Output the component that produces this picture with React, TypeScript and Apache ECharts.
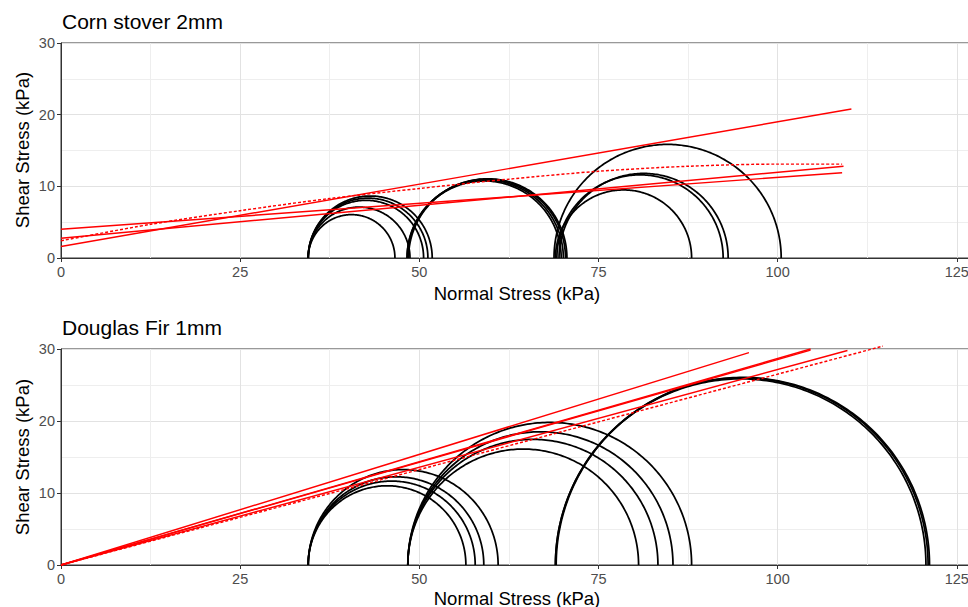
import React, { useEffect, useRef } from "react";
import * as echarts from "echarts";

// Mohr circles, each given as [sigma3, sigma1] in kPa
const cornCircles: number[][] = [
  [34.5, 46.6], [34.5, 48.7], [34.5, 50.6], [34.5, 51.2], [34.5, 51.8],
  [48.3, 69.8], [48.3, 70.1], [48.4, 70.4], [48.5, 70.6],
  [69.0, 88.0], [69.2, 92.4], [69.5, 93.1], [68.8, 100.5],
];
const firCircles: number[][] = [
  [34.5, 56.5], [34.5, 57.8], [34.5, 59.0], [34.5, 61.0],
  [48.4, 80.6], [48.4, 83.3], [48.4, 85.4], [48.4, 88.0],
  [69.0, 120.7], [69.0, 121.0], [69.1, 121.2],
];

// Linear failure envelopes as [x0, y0, x1, y1]
const cornLinear: number[][] = [
  [0, 1.6, 110.3, 20.8],
  [0, 4.0, 109.0, 11.9],
  [0, 2.75, 109.2, 12.8],
];
// Curved (dotted) envelope for corn stover
const cornCurveX = [0, 12.5, 25, 37.5, 50, 62.5, 75, 87.5, 100, 109];
const cornCurveY = [2.4, 4.7, 6.6, 8.3, 9.7, 11.0, 12.1, 12.8, 13.1, 13.1];

const firLinear: number[][] = [
  [0, 0, 96.0, 29.5],
  [0, 0, 104.6, 30.0],
  [0, 0, 104.6, 29.85],
  [0, 0, 109.75, 29.8],
];
const firDotted: number[][] = [[0, 0, 114.7, 30.4]];

const panelTitles = ["Corn stover 2mm", "Douglas Fir 1mm"];
const xTitle = "Normal Stress (kPa)";
const yTitle = "Shear Stress (kPa)";

const FONT = "'Liberation Sans', Arial, Helvetica, sans-serif";
const RED = "#ff0000";

function App() {
  const ref = useRef<HTMLDivElement>(null);

  useEffect(() => {
    if (!ref.current) return;
    const chart = echarts.init(ref.current, null, { renderer: "svg" });

    const pxPerUnit = 7.166;
    const xMax = 130;
    const grids = [
      { left: 61, top: 43, width: xMax * pxPerUnit, height: 215 },
      { left: 61, top: 349, width: xMax * pxPerUnit, height: 216 },
    ];

    const xAxis = grids.map((_, i) => ({
      type: "value" as const,
      gridIndex: i,
      min: 0,
      max: xMax,
      interval: 25,
      axisLine: { show: true, lineStyle: { color: "#333", width: 1 } },
      axisTick: { show: true, length: 4, lineStyle: { color: "#333" } },
      minorTick: { show: false, splitNumber: 2 },
      axisLabel: {
        color: "#4d4d4d",
        fontSize: 14.5,
        fontFamily: FONT,
        margin: 6,
        formatter: (v: number) => (v % 25 === 0 ? String(v) : ""),
      },
      splitLine: { show: true, lineStyle: { color: "#e2e2e2", width: 1 } },
      minorSplitLine: { show: true, lineStyle: { color: "#eeeeee", width: 1 } },
    }));

    const yAxis = grids.map((_, i) => ({
      type: "value" as const,
      gridIndex: i,
      min: 0,
      max: 30,
      interval: 10,
      axisLine: { show: true, lineStyle: { color: "#333", width: 1 } },
      axisTick: { show: true, length: 4, lineStyle: { color: "#333" } },
      minorTick: { show: false, splitNumber: 2 },
      axisLabel: { color: "#4d4d4d", fontSize: 14.5, fontFamily: FONT, margin: 6 },
      splitLine: { show: true, lineStyle: { color: "#e2e2e2", width: 1 } },
      minorSplitLine: { show: true, lineStyle: { color: "#eeeeee", width: 1 } },
    }));

    const circleSeries = (data: number[][], idx: number) => ({
      type: "custom" as const,
      xAxisIndex: idx,
      yAxisIndex: idx,
      silent: true,
      z: 2,
      data,
      renderItem: (_params: any, api: any) => {
        const s3 = api.value(0) as number;
        const s1 = api.value(1) as number;
        const c = (s1 + s3) / 2;
        const r = (s1 - s3) / 2;
        const points: number[][] = [];
        for (let i = 0; i <= 180; i++) {
          const t = (Math.PI * i) / 180;
          points.push(api.coord([c + r * Math.cos(t), r * Math.sin(t)]));
        }
        return {
          type: "polyline",
          shape: { points },
          style: { stroke: "#000", lineWidth: 1.75, fill: "none" },
        };
      },
    });

    const envelopeSeries = (seg: number[], idx: number, dashed: boolean) => ({
      type: "line" as const,
      xAxisIndex: idx,
      yAxisIndex: idx,
      silent: true,
      clip: false,
      z: 3,
      symbol: "none",
      data: [
        [seg[0], seg[1]],
        [seg[2], seg[3]],
      ],
      lineStyle: { color: RED, width: 1.45, type: dashed ? [3, 2] : "solid" },
    });

    const series: any[] = [
      circleSeries(cornCircles, 0),
      circleSeries(firCircles, 1),
      ...cornLinear.map((s) => envelopeSeries(s, 0, false)),
      {
        type: "line",
        xAxisIndex: 0,
        yAxisIndex: 0,
        silent: true,
        clip: false,
        z: 3,
        symbol: "none",
        smooth: 0.3,
        data: cornCurveX.map((x, i) => [x, cornCurveY[i]]),
        lineStyle: { color: RED, width: 1.45, type: [3, 2] },
      },
      ...firLinear.map((s) => envelopeSeries(s, 1, false)),
      ...firDotted.map((s) => envelopeSeries(s, 1, true)),
    ];

    const titleText = (text: string, y: number) => ({
      type: "text",
      left: 62,
      top: y,
      style: { text, fontSize: 21, fontFamily: FONT, fill: "#000" },
    });
    const xTitleText = (y: number) => ({
      type: "text",
      x: 517,
      y,
      style: {
        text: xTitle,
        fontSize: 18.5,
        fontFamily: FONT,
        fill: "#000",
        align: "center",
        verticalAlign: "middle",
      },
    });
    const yTitleText = (y: number) => ({
      type: "text",
      x: 22,
      y,
      rotation: Math.PI / 2,
      style: {
        text: yTitle,
        fontSize: 18.5,
        fontFamily: FONT,
        fill: "#000",
        align: "center",
        verticalAlign: "middle",
      },
    });

    chart.setOption({
      animation: false,
      backgroundColor: "#fff",
      textStyle: { fontFamily: FONT },
      grid: grids.map((g) => ({ ...g, show: true, borderColor: "#333", borderWidth: 1, backgroundColor: "transparent" })),
      xAxis,
      yAxis,
      series,
      graphic: [
        titleText(panelTitles[0], 11),
        titleText(panelTitles[1], 317),
        xTitleText(293),
        xTitleText(598),
        yTitleText(150),
        yTitleText(457),
      ],
    });

    return () => chart.dispose();
  }, []);

  // The plotting panels run past the right edge of the view, so the chart
  // canvas is wider than its clipping frame.
  return (
    <div
      style={{
        position: "fixed",
        left: 0,
        top: 0,
        width: 968,
        height: 607,
        overflow: "hidden",
        background: "#fff",
      }}
    >
      <div ref={ref} style={{ width: 1010, height: 607 }} />
    </div>
  );
}

export default App;
